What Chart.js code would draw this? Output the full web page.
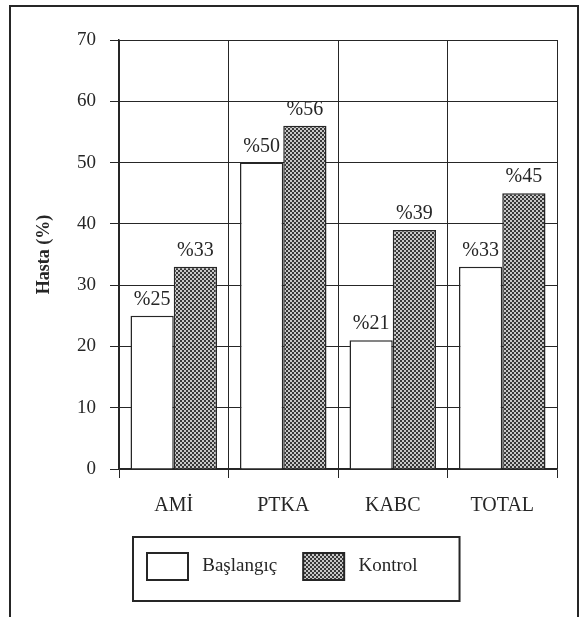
<!DOCTYPE html>
<html><head><meta charset="utf-8">
<script src="https://cdn.jsdelivr.net/npm/chart.js@4.4.1/dist/chart.umd.min.js"></script>
<style>
html,body{margin:0;padding:0;background:#fff;width:584px;height:617px;overflow:hidden;}
#frame{position:absolute;left:9px;top:5px;width:566px;height:700px;border:2px solid #262626;border-bottom:none;}
#c{position:absolute;left:0;top:0;}
</style></head><body>
<div id="frame"></div>
<canvas id="c" width="584" height="617"></canvas>
<script>
// ---- data ----
const categories = ['AMİ', 'PTKA', 'KABC', 'TOTAL'];
const seriesNames = ['Başlangıç', 'Kontrol'];
const baslangic = [25, 50, 21, 33];
const kontrol = [33, 56, 39, 45];
const yTicks = [0, 10, 20, 30, 40, 50, 60, 70];
const yTitle = 'Hasta (%)';
const labelPrefix = '%';

// ---- style ----
const FONT = "'Liberation Serif','Times New Roman',serif";
const INK = '#262626';
const LEG_PAD = 26, LEG_BOX_W = 41, LEG_BOX_H = 27;
const LEG_H = LEG_BOX_H + LEG_PAD + 10;

const canvas = document.getElementById('c');
const ctx = canvas.getContext('2d');
function makePattern() {
  const t = document.createElement('canvas');
  t.width = 4; t.height = 4;
  const g = t.getContext('2d');
  g.fillStyle = '#c8c8c8'; g.fillRect(0, 0, 4, 4);
  g.fillStyle = '#383838'; g.fillRect(0, 0, 2, 2); g.fillRect(2, 2, 2, 2);
  return ctx.createPattern(t, 'repeat');
}
const hatch = makePattern();

const valueLabels = {
  id: 'valueLabels',
  afterDatasetsDraw(chart) {
    const c = chart.ctx;
    c.save();
    c.font = '20px ' + FONT;
    c.fillStyle = INK;
    c.textAlign = 'center';
    c.textBaseline = 'alphabetic';
    chart.data.datasets.forEach((ds, i) => {
      chart.getDatasetMeta(i).data.forEach((bar, j) => {
        c.fillText(labelPrefix + ds.data[j], bar.x, bar.y - 11);
      });
    });
    c.restore();
  }
};

const legendPlace = {
  id: 'legendPlace',
  afterLayout(chart) {
    const lg = chart.legend, a = chart.chartArea;
    const h = lg.height;
    lg.left = a.left + 28 - LEG_PAD;
    lg.right = a.right + 20;
    lg.top = a.bottom + 84 - LEG_PAD;
    lg.bottom = lg.top + h;
  },
  afterDraw(chart) {
    const lg = chart.legend, c = chart.ctx;
    const x0 = lg.left + LEG_PAD - 14;
    const x1 = lg.left + LEG_PAD + lg.lineWidths[0] - LEG_PAD + 42;
    const y0 = lg.top + LEG_PAD - 16;
    const y1 = lg.top + LEG_PAD + LEG_BOX_H + 21;
    c.save();
    c.strokeStyle = INK;
    c.lineWidth = 2;
    c.strokeRect(x0, y0, x1 - x0, y1 - y0);
    c.restore();
  }
};

new Chart(ctx, {
  type: 'bar',
  data: {
    labels: categories,
    datasets: [
      { label: seriesNames[0], data: baslangic, backgroundColor: '#ffffff', borderColor: INK, borderWidth: 1.5,
        categoryPercentage: 0.79, barPercentage: 1.0 },
      { label: seriesNames[1], data: kontrol, backgroundColor: hatch, borderColor: INK, borderWidth: 1.5,
        categoryPercentage: 0.79, barPercentage: 1.0 }
    ]
  },
  options: {
    responsive: false,
    animation: false,
    events: [],
    layout: { padding: { left: 10, right: 27, top: 40, bottom: 0 } },
    plugins: {
      tooltip: { enabled: false },
      legend: {
        position: 'bottom',
        align: 'start',
        labels: {
          boxWidth: LEG_BOX_W, boxHeight: LEG_BOX_H, padding: LEG_PAD,
          color: INK, font: { family: FONT, size: 19 },
          generateLabels(chart) {
            const items = Chart.defaults.plugins.legend.labels.generateLabels(chart);
            items.forEach(it => { it.text = ' ' + it.text; it.lineWidth = 2; });
            return items;
          }
        }
      }
    },
    scales: {
      x: {
        grid: { offset: true, color: INK, lineWidth: 1, tickLength: 9, drawTicks: true },
        border: { color: INK, width: 1.5 },
        ticks: { color: INK, font: { family: FONT, size: 20 }, padding: 16, maxRotation: 0 },
        afterFit(scale) { scale.height = 617 - 469 - LEG_H; }
      },
      y: {
        min: yTicks[0], max: yTicks[yTicks.length - 1],
        afterBuildTicks(scale) { scale.ticks = yTicks.map(v => ({ value: v })); },
        grid: { color: INK, lineWidth: 1, tickLength: 9 },
        border: { color: INK, width: 1.5 },
        ticks: { color: INK, font: { family: FONT, size: 19 }, padding: 14 },
        title: { display: true, text: yTitle, color: INK, font: { family: FONT, size: 18, weight: 'bold' },
                 padding: { top: 24, bottom: 0 } },
        afterFit(scale) { scale.width = 109; }
      }
    }
  },
  plugins: [valueLabels, legendPlace]
});
</script>
</body></html>
